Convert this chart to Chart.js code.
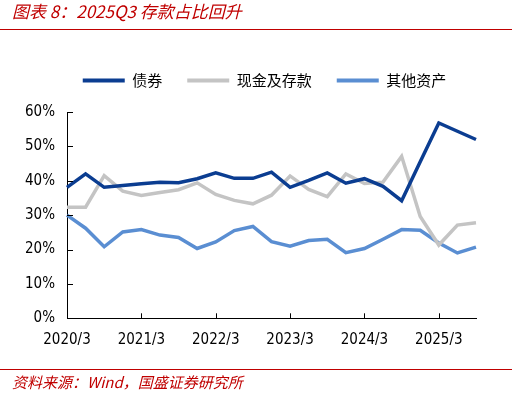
<!DOCTYPE html>
<html>
<head>
<meta charset="utf-8">
<script src="https://cdn.jsdelivr.net/npm/chart.js@4"></script>
<style>
  html, body { margin:0; padding:0; background:#fff; }
  #wrap { position:relative; width:512px; height:396px; overflow:hidden; }
  #c { position:absolute; left:0; top:0; }
  .title { position:absolute; left:12px; top:-2px; font-family:"Noto Sans CJK SC", sans-serif; font-style:italic; font-size:17px; color:#C00000; white-space:nowrap; }
  .rule { position:absolute; left:0; width:512px; height:0; border-top:1.5px solid #C00000; }
  .src { position:absolute; left:12px; top:371px; font-family:"Noto Sans CJK SC", sans-serif; font-style:italic; font-size:15px; color:#C00000; white-space:nowrap; }
</style>
</head>
<body>
<div id="wrap">
  <canvas id="c" width="512" height="396"></canvas>
  <div class="title">图表 8：2025Q3 存款占比回升</div>
  <div class="rule" style="top:29px"></div>
  <div class="rule" style="top:369px"></div>
  <div class="src">资料来源：Wind，国盛证券研究所</div>
</div>
<script>
const categories = [
  "2020/3","2020/6","2020/9","2020/12",
  "2021/3","2021/6","2021/9","2021/12",
  "2022/3","2022/6","2022/9","2022/12",
  "2023/3","2023/6","2023/9","2023/12",
  "2024/3","2024/6","2024/9","2024/12",
  "2025/3","2025/6","2025/9"
];
const seriesNames = ["债券", "现金及存款", "其他资产"];
const bonds = [38.1, 42.0, 38.1, 38.6, 39.1, 39.6, 39.4, 40.6, 42.3, 40.7, 40.7, 42.5, 38.1, 40.1, 42.3, 39.3, 40.6, 38.4, 34.2, 45.5, 56.8, 54.4, 52.0];
const cashDeposits = [32.3, 32.3, 41.5, 37.0, 35.7, 36.6, 37.4, 39.4, 36.0, 34.3, 33.3, 35.8, 41.4, 37.5, 35.4, 42.0, 39.2, 39.6, 47.1, 29.6, 21.3, 27.1, 27.8];
const otherAssets = [30.0, 26.2, 20.8, 25.1, 25.8, 24.2, 23.5, 20.3, 22.2, 25.5, 26.7, 22.3, 21.0, 22.6, 23.0, 19.1, 20.3, 23.0, 25.8, 25.6, 21.9, 19.0, 20.7];
const yTicks = [0, 10, 20, 30, 40, 50, 60];

const colors = ["#0B3D91", "#C4C4C4", "#5A8ED2"];
const axisFont = { family: "'DejaVu Sans Condensed', 'DejaVu Sans', sans-serif", size: 15 };

const legendGap = {
  id: 'legendGap',
  beforeInit(chart) {
    const origFit = chart.legend.fit;
    chart.legend.fit = function () {
      origFit.call(this);
      this.height += 14;
    };
  }
};

// let y tick labels extend left of the (narrow) axis box without clipping
const noLabelClip = {
  id: 'noLabelClip',
  beforeDraw(chart) {
    chart.scales.y._computeLabelArea = function () { return undefined; };
  }
};

const innerTicks = {
  id: 'innerTicks',
  afterDatasetsDraw(chart) {
    const { ctx, chartArea } = chart;
    const xs = chart.scales.x, ys = chart.scales.y;
    ctx.save();
    ctx.strokeStyle = '#000';
    ctx.lineWidth = 1;
    ctx.beginPath();
    ys.ticks.forEach((t, i) => {
      const py = Math.round(ys.getPixelForTick(i)) + 0.5;
      ctx.moveTo(chartArea.left, py);
      ctx.lineTo(chartArea.left + 6, py);
    });
    xs.ticks.forEach((t, i) => {
      if (i > 0 && i % 4 === 0) {
        const px = Math.round(xs.getPixelForTick(i)) + 0.5;
        ctx.moveTo(px, chartArea.bottom);
        ctx.lineTo(px, chartArea.bottom - 5);
      }
    });
    ctx.stroke();
    ctx.restore();
  }
};

const mk = (name, data, color) => ({
  label: name, data: data,
  borderColor: color, backgroundColor: color,
  borderWidth: 3.5, pointRadius: 0, pointHoverRadius: 0, tension: 0,
  borderJoinStyle: 'miter', fill: false
});

new Chart(document.getElementById('c'), {
  type: 'line',
  data: {
    labels: categories,
    datasets: [
      mk(seriesNames[0], bonds, colors[0]),
      mk(seriesNames[1], cashDeposits, colors[1]),
      mk(seriesNames[2], otherAssets, colors[2])
    ]
  },
  options: {
    responsive: false,
    animation: false,
    events: [],
    layout: { padding: { top: 48, left: 53, right: 36, bottom: 0 } },
    plugins: {
      legend: {
        display: true,
        position: 'top',
        labels: {
          boxWidth: 42, boxHeight: 4, padding: 25,
          color: '#000',
          font: { family: "'Noto Sans CJK SC', sans-serif", size: 15 },
          generateLabels(chart) {
            return chart.data.datasets.map((d, i) => ({
              text: d.label, fillStyle: d.borderColor, strokeStyle: d.borderColor,
              lineWidth: 0, hidden: false, datasetIndex: i
            }));
          }
        }
      },
      tooltip: { enabled: false }
    },
    scales: {
      x: {
        type: 'category',
        grid: { display: false, drawTicks: false },
        border: { display: true, color: '#000', width: 1 },
        ticks: {
          autoSkip: false, maxRotation: 0, minRotation: 0, padding: 13,
          color: '#000', font: axisFont,
          callback: function (v, i) { return i % 4 === 0 ? categories[i] : ''; }
        },
        afterFit(s) { s.height = 77.7; }
      },
      y: {
        min: 0, max: 60,
        afterBuildTicks(s) { s.ticks = yTicks.map(v => ({ value: v })); },
        grid: { display: false, drawTicks: false },
        border: { display: true, color: '#000', width: 1 },
        ticks: {
          padding: 12, color: '#000', font: axisFont,
          callback: v => v + '%'
        },
        afterFit(s) { s.width = 14; }
      }
    }
  },
  plugins: [legendGap, noLabelClip, innerTicks]
});
</script>
</body>
</html>
